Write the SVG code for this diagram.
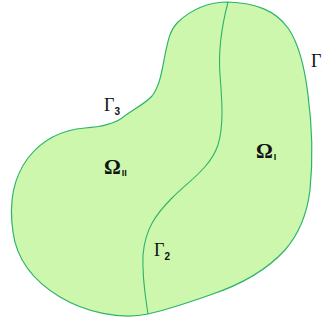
<svg xmlns="http://www.w3.org/2000/svg" width="322" height="324" viewBox="0 0 322 324">
<style>
.reg{fill:#ccf7ad;stroke:#2fb36b;stroke-width:1.2}
.cut{fill:none;stroke:#2fb36b;stroke-width:1.1}
.g{font-family:"Liberation Serif",serif;font-size:18px;fill:#111}
.gs{font-family:"Liberation Sans",sans-serif;font-size:10px;font-weight:bold;fill:#111}
.o{font-family:"Liberation Serif",serif;font-size:21px;font-weight:bold;fill:#111}
.os{font-family:"Liberation Sans",sans-serif;font-size:9px;font-weight:bold;fill:#111}
</style>
<g id="domain">
<path class="reg" d="M228,2 C255,3 275,10 288,28 C300,45 305,70 308,95 C312,125 313,160 310,190 C307,215 298,235 285,250 C265,272 240,285 210,295 C190,302 170,309 148,314 C120,320 85,312 60,297 C35,282 17,262 13,232 C9,205 13,178 28,158 C42,140 60,130 85,128 C100,127 112,125 122,118 C132,110 145,104 152,96 C160,86 162,70 165,55 C168,40 170,30 178,22 C192,9 210,2 228,2 Z"/>
</g>
<g id="connectors">
<path class="cut" d="M228,2 C222,25 218,50 220,75 C222,100 224,125 218,145 C210,168 190,180 172,198 C155,215 145,230 143,255 C142,280 146,300 148,314"/>
</g>
<g id="labels">
<text class="g" x="104" y="111">Γ<tspan class="gs" dy="4">3</tspan></text>
<text class="g" x="311" y="67">Γ<tspan class="gs" dy="4">1</tspan></text>
<text class="g" x="154" y="256">Γ<tspan class="gs" dy="4">2</tspan></text>
<text class="o" x="104" y="174">Ω<tspan class="os" dx="1" dy="2">II</tspan></text>
<text class="o" x="256" y="158">Ω<tspan class="os" dx="1" dy="2">I</tspan></text>
</g>
</svg>
